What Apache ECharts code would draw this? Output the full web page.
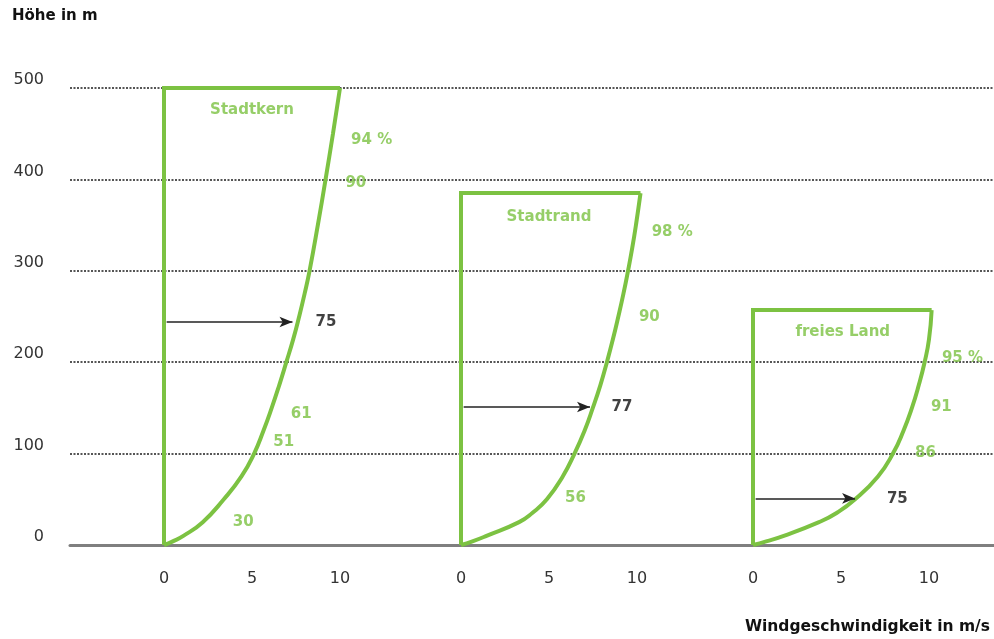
<!DOCTYPE html>
<html>
<head>
<meta charset="utf-8">
<script src="https://cdn.jsdelivr.net/npm/echarts@6/dist/echarts.min.js"></script>
<style>
  html, body { margin: 0; padding: 0; background: #fff; }
  #chart { width: 994px; height: 639px; }
</style>
</head>
<body>
<div id="chart"></div>
<script>
// Höhe (m) / Windgeschwindigkeit (m/s)
const heightTicks = [0, 100, 200, 300, 400, 500];
const speedTicks = [0, 5, 10];
const profileNames = ['Stadtkern', 'Stadtrand', 'freies Land'];
const topHeights = [500, 385, 257];
const topSpeeds = [10, 10.2, 10.15];

// Profilkurven, von oben nach unten [v, h]
const curveKern = [[10, 500], [9.6, 450], [9.18, 400], [8.74, 350], [8.27, 300], [7.99, 275], [7.68, 250], [7.34, 225], [6.95, 200], [6.55, 175], [6.12, 150], [5.65, 125], [5.12, 100], [4.4, 75], [3.4, 50], [2.2, 25], [1.1, 10], [0.5, 4], [0, 0]];
const curveRand = [[10.2, 385], [9.94, 350], [9.73, 325], [9.49, 300], [9.23, 275], [8.94, 250], [8.63, 225], [8.29, 200], [7.92, 175], [7.49, 150], [7.02, 125], [6.45, 100], [5.78, 75], [4.88, 50], [4.05, 35], [3.3, 25], [1.45, 10], [0.65, 4], [0, 0]];
const curveLand = [[10.15, 257], [10.0, 225], [9.75, 200], [9.42, 175], [9.03, 150], [8.55, 125], [7.95, 100], [7.1, 75], [5.8, 50], [4.75, 35], [3.75, 25], [1.75, 10], [0.75, 4], [0, 0]];

// Pfeile [v Spitze, h] und Werte
const arrows = [[7.3, 244], [7.33, 151], [5.8, 51]];
const arrowValues = [[9.2, 244, '75'], [9.15, 151, '77'], [8.2, 50, '75']];

// Prozentangaben [v, h, Text]
const pctKern = [[11.8, 443, '94 %'], [10.9, 396, '90'], [7.8, 143, '61'], [6.8, 113, '51'], [4.5, 25, '30']];
const pctRand = [[12.0, 342, '98 %'], [10.7, 249, '90'], [6.5, 51, '56']];
const pctLand = [[11.9, 205, '95 %'], [10.7, 151, '91'], [9.8, 101, '86']];

// Titelpositionen [v, h]
const namePos = [[5.0, 476], [5.0, 359], [5.1, 233]];

const curves = [curveKern, curveRand, curveLand];
const pcts = [pctKern, pctRand, pctLand];

const green = '#7cc242';
const font = 'DejaVu Sans';

// Pixel des Nullpunkts je Profil, px pro m/s
const zeroPx = [164, 461, 753];
const pxPerUnit = 17.6;
const gridLeft = 70, gridRight = 994;

let chart = echarts.init(document.getElementById('chart'));

let xAxes = zeroPx.map((p0, i) => ({
  type: 'value',
  gridIndex: 0,
  position: 'bottom',
  min: -(p0 - gridLeft) / pxPerUnit,
  max: (gridRight - p0) / pxPerUnit,
  splitLine: { show: false },
  axisTick: { show: false },
  axisLine: { show: i === 0, onZero: true, lineStyle: { color: '#7f7f7f', width: 3 } },
  axisLabel: {
    customValues: speedTicks,
    margin: 26,
    fontSize: 16,
    fontFamily: font,
    color: '#333'
  }
}));

function textLabel(color) {
  return {
    show: true, position: 'inside', formatter: p => p.data[2],
    color: color, fontSize: 15, fontWeight: 'bold', fontFamily: font,
    textBorderWidth: 0
  };
}

let series = [];
for (let g = 0; g < 3; g++) {
  let top = topHeights[g];
  // Rahmen links und oben
  series.push({
    type: 'line',
    xAxisIndex: g,
    data: [[0, 0], [0, top], [topSpeeds[g], top]],
    showSymbol: false,
    clip: false,
    lineStyle: { color: green, width: 4, join: 'miter' },
    z: 3
  });
  // Profilkurve
  series.push({
    type: 'line',
    xAxisIndex: g,
    data: curves[g],
    smooth: 0.5,
    showSymbol: false,
    clip: false,
    lineStyle: { color: green, width: 4 },
    z: 3,
    markLine: {
      silent: true,
      symbol: ['none', 'arrow'],
      symbolSize: [8, 13],
      label: { show: false },
      lineStyle: { color: '#222', width: 1.5, type: 'solid' },
      data: [[{ coord: [0.15, arrows[g][1]] }, { coord: [arrows[g][0], arrows[g][1]] }]]
    }
  });
  // Prozentwerte
  series.push({
    type: 'scatter', xAxisIndex: g, data: pcts[g], symbolSize: 0,
    label: textLabel(green)
  });
  // Wert am Pfeil
  series.push({
    type: 'scatter', xAxisIndex: g, data: [arrowValues[g]], symbolSize: 0,
    label: textLabel('#111')
  });
  // Name
  series.push({
    type: 'scatter', xAxisIndex: g,
    data: [[namePos[g][0], namePos[g][1], profileNames[g]]],
    symbolSize: 0,
    label: textLabel(green)
  });
}

var option = {
  animation: false,
  backgroundColor: '#fff',
  grid: { left: gridLeft, right: 994 - gridRight, top: 88, bottom: 94 },
  xAxis: xAxes,
  yAxis: {
    type: 'value',
    min: heightTicks[0],
    max: heightTicks[heightTicks.length - 1],
    interval: 100,
    axisLine: { show: false },
    axisTick: { show: false },
    axisLabel: {
      margin: 26,
      fontSize: 16,
      fontFamily: font,
      color: '#333',
      verticalAlign: 'bottom'
    },
    splitLine: { lineStyle: { color: '#555', width: 2, type: [2, 1.5] } }
  },
  graphic: [
    {
      type: 'text', left: 12, top: 9,
      style: { text: 'Höhe in m', font: 'bold 15px "DejaVu Sans"', fill: '#111' }
    },
    {
      type: 'text', right: 4, top: 619,
      style: { text: 'Windgeschwindigkeit in m/s', font: 'bold 15.5px "DejaVu Sans"', fill: '#111' }
    }
  ],
  series: series
};

chart.setOption(option);
window.onresize = chart.resize;
</script>
</body>
</html>
